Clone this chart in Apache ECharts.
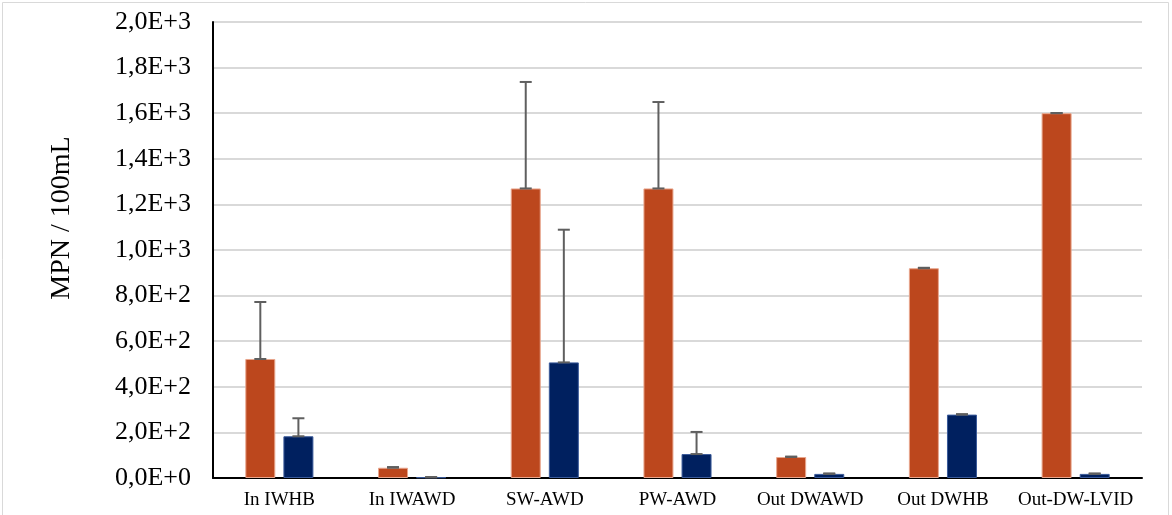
<!DOCTYPE html>
<html><head><meta charset="utf-8">
<script src="https://cdn.jsdelivr.net/npm/echarts@6/dist/echarts.min.js"></script>
<style>html,body{margin:0;padding:0;background:#fff}#c{width:1172px;height:515px}</style>
</head><body><div id="c"></div>
<script>
const categories = ['In IWHB','In IWAWD','SW-AWD','PW-AWD','Out DWAWD','Out DWHB','Out-DW-LVID'];
const seriesA = [522, 45, 1270, 1270, 92, 920, 1600];
const errorA  = [250, 3, 467, 379, 2, 2, 1];
const seriesB = [183, 3, 507, 105, 18, 278, 18];
const errorB  = [79, 1, 582, 97, 2, 2, 2];
const yTicks = [0,200,400,600,800,1000,1200,1400,1600,1800,2000];
const yName = 'MPN / 100mL';

const colA = '#BC471D', colB = '#00205F';
const BW = 0.226, GAP = 0.27;

function fmt(v){
  if (v === 0) return '0,0E+0';
  const e = Math.floor(Math.log10(v) + 1e-9);
  return (v / Math.pow(10, e)).toFixed(1).replace('.', ',') + 'E+' + e;
}

function errSeries(vals, errs, sign){
  return {
    type: 'custom',
    z: 5,
    data: vals.map((v,i)=>[i, v, v+errs[i]]),
    renderItem: function(params, api){
      const i = api.value(0);
      const base = api.coord([i, api.value(1)]);
      const top = api.coord([i, api.value(2)]);
      const band = api.size([1,0])[0];
      const bw = band*BW;
      const x = base[0] + sign*(bw + bw*GAP)/2;
      const cap = 6;
      const st = {stroke:'#5f5f5f', lineWidth:2};
      return {type:'group', children:[
        {type:'line', shape:{x1:x,y1:base[1],x2:x,y2:top[1]}, style:st},
        {type:'line', shape:{x1:x-cap,y1:top[1],x2:x+cap,y2:top[1]}, style:st},
        {type:'line', shape:{x1:x-cap,y1:base[1],x2:x+cap,y2:base[1]}, style:st}
      ]};
    }
  };
}

const chart = echarts.init(document.getElementById('c'), null, {renderer:'canvas'});
chart.setOption({
  animation: false,
  backgroundColor: '#fff',
  graphic: [
    {type:'rect', shape:{x:2.5,y:2.5,width:1166,height:520}, style:{fill:'none', stroke:'#d9d9d9', lineWidth:1}},
    {type:'text', x:62, y:218, rotation:Math.PI/2,
     style:{text:yName, fill:'#000', font:'28px "Liberation Serif"', textAlign:'center', textVerticalAlign:'middle'}}
  ],
  grid: {left: 213, right: 30, top: 22, bottom: 37},
  xAxis: {
    type: 'category', data: categories,
    axisLine: {lineStyle:{color:'#000', width:2}},
    axisTick: {show:false},
    axisLabel: {color:'#000', fontFamily:'Liberation Serif', fontSize:19, margin:13, interval:0}
  },
  yAxis: {
    type: 'value', min: 0, max: 2000, interval: 200,
    axisLine: {show:true, lineStyle:{color:'#000', width:2}},
    axisTick: {show:false},
    splitLine: {lineStyle:{color:'#d9d9d9', width:2}},
    axisLabel: {color:'#000', fontFamily:'Liberation Serif', fontSize:26, margin:22, formatter: fmt}
  },
  series: [
    {type:'bar', data: seriesA, barWidth: (BW*100)+'%', barGap: (GAP*100)+'%',
     itemStyle:{color:colA, borderColor:'#e8a58c', borderWidth:1}},
    {type:'bar', data: seriesB, barWidth: (BW*100)+'%', barGap: (GAP*100)+'%',
     itemStyle:{color:colB, borderColor:'#3a5a9a', borderWidth:1}},
    errSeries(seriesA, errorA, -1),
    errSeries(seriesB, errorB, 1)
  ]
});
</script></body></html>
